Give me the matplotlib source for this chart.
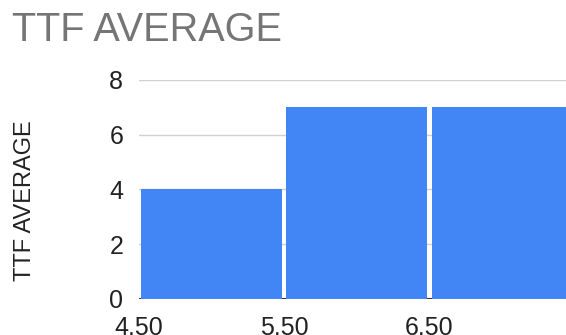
import matplotlib.pyplot as plt

# histogram bins (left edges) and counts
bin_edges = [4.5, 5.5, 6.5]
bin_width = 1.0
counts = [4, 7, 7]
x_ticks = [4.5, 5.5, 6.5]
x_labels = ['4.50', '5.50', '6.50']
y_ticks = [0, 2, 4, 6, 8]

plt.rcParams['font.family'] = ['Liberation Sans', 'DejaVu Sans']

fig = plt.figure(figsize=(5.66, 3.35), dpi=100)
ax = fig.add_axes([0.2447, 0.1075, 0.7553, 0.6537])

# small white gap between bars, like the sheets histogram
gap = 0.03
ax.bar([b + gap / 2 for b in bin_edges], counts, width=bin_width - gap,
       align='edge', color='#4285F4', linewidth=0, zorder=3)

ax.set_xlim(4.5, 7.438)
ax.set_ylim(0, 8)
ax.set_xticks(x_ticks)
ax.set_xticklabels(x_labels)
ax.set_yticks(y_ticks)
ax.grid(axis='y', color='#d0d0d0', linewidth=1, zorder=0)
ax.axhline(0, color='#333333', linewidth=1.5, zorder=2)

for s in ax.spines.values():
    s.set_visible(False)
ax.tick_params(length=0, labelsize=18, colors='#222222')
ax.tick_params(axis='x', pad=12.5)
ax.tick_params(axis='y', pad=11)

fig.text(25 / 566, 1 - 201 / 335, 'TTF AVERAGE', fontsize=17, color='#222222',
         rotation=90, ha='center', va='center')
fig.text(12 / 566, 1 - 41 / 335, 'TTF AVERAGE', fontsize=28.5, color='#757575',
         ha='left', va='baseline')

fig.savefig('out.png', dpi=100)
